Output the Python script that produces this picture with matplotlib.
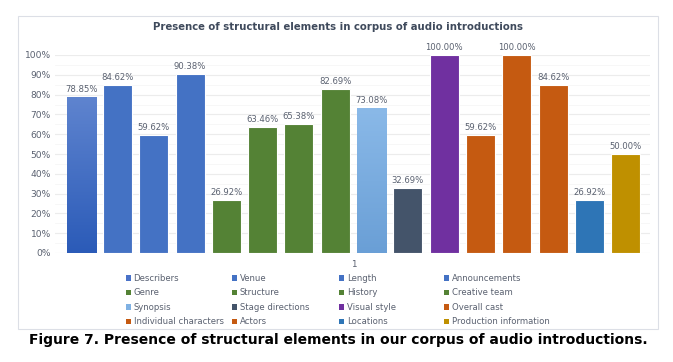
import numpy as np
import matplotlib
matplotlib.use('Agg')
import matplotlib.pyplot as plt
from matplotlib.patches import Rectangle
from matplotlib.colors import LinearSegmentedColormap

# data
labels = ['Describers', 'Venue', 'Length', 'Announcements',
          'Genre', 'Structure', 'History', 'Creative team',
          'Synopsis', 'Stage directions', 'Visual style', 'Overall cast',
          'Individual characters', 'Actors', 'Locations', 'Production information']
values = [78.85, 84.62, 59.62, 90.38,
          26.92, 63.46, 65.38, 82.69,
          73.08, 32.69, 100.00, 59.62,
          100.00, 84.62, 26.92, 50.00]
colors = ['#4a72c8', '#4472C4', '#4472C4', '#4472C4',
          '#548235', '#548235', '#548235', '#548235',
          '#7fb1e3', '#44546A', '#7030A0', '#C55A11',
          '#C55A11', '#C55A11', '#2E75B6', '#BF9000']
# bars drawn with a vertical gradient (top colour, bottom colour)
gradients = {0: ('#5f84cf', '#2b5bb8'), 8: ('#8ab9e8', '#6a9fd6')}

W, H = 673, 362
fig = plt.figure(figsize=(W / 100, H / 100), dpi=100)
fig.patch.set_facecolor('white')

# chart border box
fig.add_artist(Rectangle((18 / W, 1 - 329 / H), 640 / W, 313 / H,
                         transform=fig.transFigure, fill=False,
                         edgecolor='#dcdfe6', lw=0.8))

ax = fig.add_axes([55 / W, 1 - 253 / H, 595 / W, 198 / H])
x = np.arange(len(values))
bars = ax.bar(x, values, width=0.8, color=colors, edgecolor='white',
              linewidth=0.8, zorder=3)

for i, (top, bot) in gradients.items():
    b = bars[i]
    cmap = LinearSegmentedColormap.from_list('g%d' % i, [bot, top])
    x0, w, h = b.get_x(), b.get_width(), b.get_height()
    im = ax.imshow(np.linspace(0, 1, 100).reshape(-1, 1), cmap=cmap,
                   extent=[x0, x0 + w, 0, h], origin='lower', aspect='auto',
                   zorder=3.5)
    im.set_clip_path(b)

for i, v in enumerate(values):
    ax.text(i, v + 1.5, '%.2f%%' % v, ha='center', va='bottom',
            fontsize=6.1, color='#5a6170', zorder=5)

ax.set_xlim(-0.72, 15.67)
ax.set_ylim(0, 100)
ax.set_yticks(np.arange(0, 101, 10))
ax.set_yticklabels(['%d%%' % t for t in range(0, 101, 10)])
ax.set_yticks(np.arange(5, 100, 10), minor=True)
ax.tick_params(axis='y', which='both', length=0, labelsize=6.6,
               labelcolor='#5a6170', pad=3)
ax.set_xticks([7.5])
ax.set_xticklabels(['1'])
ax.tick_params(axis='x', length=0, labelsize=6.4, labelcolor='#5a6170', pad=5)
ax.grid(axis='y', which='major', color='#ececec', lw=0.8, zorder=0)
ax.grid(axis='y', which='minor', color='#f6f6f6', lw=0.6, zorder=0)
for s in ax.spines.values():
    s.set_visible(False)

fig.text(338 / W, 1 - 27 / H,
         'Presence of structural elements in corpus of audio introductions',
         ha='center', va='center', fontsize=7.3, fontweight='bold',
         color='#3f4a5c')

# legend listed row by row in 4 fixed columns
col_x = [126, 232, 339, 444]
for c in range(4):
    idx = [r * 4 + c for r in range(4)]
    leg = fig.legend([bars[k] for k in idx], [labels[k] for k in idx],
                     loc='upper left', bbox_to_anchor=(col_x[c] / W, 1 - 274 / H),
                     frameon=False, fontsize=6.1, labelcolor='#5a6170',
                     handlelength=0.6, handleheight=0.6, handletextpad=0.3,
                     labelspacing=0.64, borderaxespad=0, borderpad=0)
    for p in leg.get_patches():
        p.set_edgecolor('none')

fig.text(338 / W, 1 - 340 / H,
         'Figure 7. Presence of structural elements in our corpus of audio introductions.',
         ha='center', va='center', fontsize=10, fontweight='bold', color='black')

fig.savefig('out.png', dpi=100, facecolor='white')
